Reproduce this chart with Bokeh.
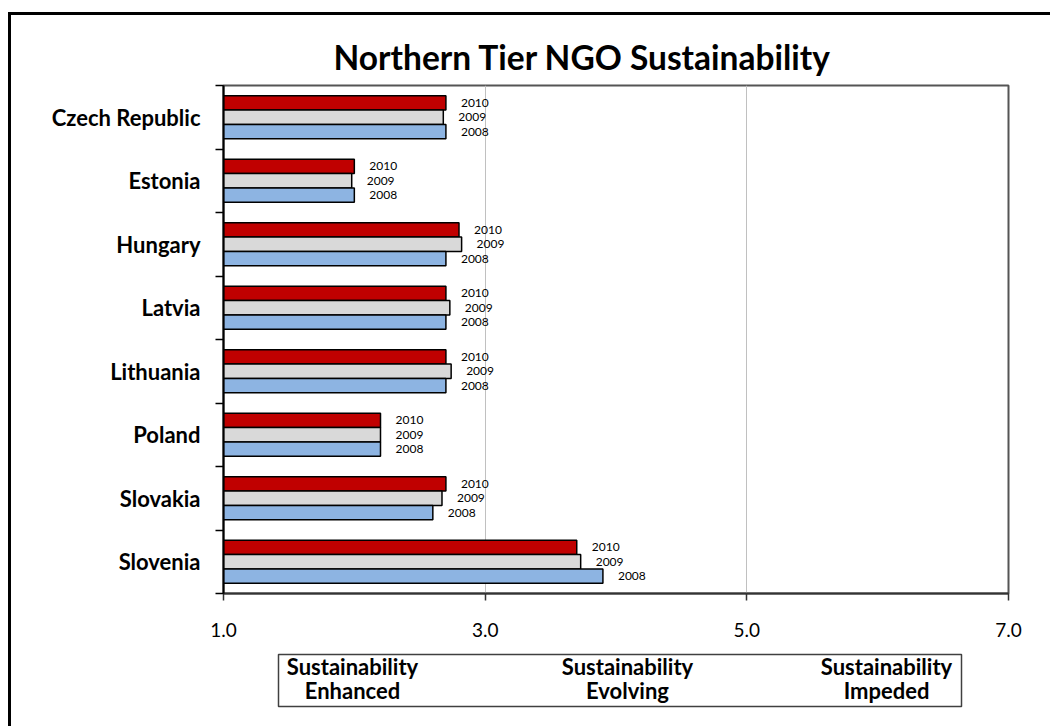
from bokeh.plotting import figure
from bokeh.models import Range1d, FixedTicker, PrintfTickFormatter, CustomJSTickFormatter, Spacer
from bokeh.core.properties import value
from bokeh.layouts import column, row
from bokeh.embed import file_html
from bokeh.resources import INLINE

# ---- data ----
countries = ["Czech Republic", "Estonia", "Hungary", "Latvia", "Lithuania",
             "Poland", "Slovakia", "Slovenia"]
years = ["2010", "2009", "2008"]
v2010 = [2.7, 2.0, 2.8, 2.7, 2.7, 2.2, 2.7, 3.7]
v2009 = [2.68, 1.98, 2.82, 2.73, 2.74, 2.2, 2.67, 3.73]
v2008 = [2.7, 2.0, 2.7, 2.7, 2.7, 2.2, 2.6, 3.9]
x_ticks = [1.0, 3.0, 5.0, 7.0]
scale_labels = ["Sustainability\nEnhanced", "Sustainability\nEvolving", "Sustainability\nImpeded"]

colors = ["#C00000", "#D9D9D9", "#8DB4E2"]
FONT = "Lato"

n = len(countries)
centers = [n - i - 0.5 for i in range(n)]
offsets = [0.228, 0.0, -0.228]
series = [v2010, v2009, v2008]

W = 1039
p = figure(width=W, height=630, x_range=Range1d(1, 7), y_range=Range1d(0, n),
           output_backend="svg", toolbar_location=None,
           min_border_left=212, min_border_right=42, min_border_top=70, min_border_bottom=52,
           title="Northern Tier NGO Sustainability")
p.title.text_font = FONT
p.title.text_font_style = "bold"
p.title.text_font_size = "33.5px"
p.title.text_color = "black"
p.title.align = "left"
p.title.offset = 110
p.title.standoff = 17

for vals, yr, col, off in zip(series, years, colors, offsets):
    ys = [c + off for c in centers]
    p.hbar(y=ys, left=1, right=vals, height=0.225, fill_color=col,
           line_color="black", line_width=1.5)
    p.text(x=vals, y=ys, text=[yr] * n, x_offset=15, text_align="left",
           text_baseline="middle", text_font=value(FONT), text_font_size="12px",
           text_color="black")

# x axis
p.xaxis.ticker = FixedTicker(ticks=x_ticks)
p.xaxis.formatter = PrintfTickFormatter(format="%.1f")
p.xaxis.major_label_text_font = FONT
p.xaxis.major_label_text_font_size = "19px"
p.xaxis.major_label_text_color = "black"
p.xaxis.major_label_standoff = 22
p.xaxis.major_tick_out = 7
p.xaxis.major_tick_in = 0
p.xaxis.minor_tick_line_color = None
p.xaxis.axis_line_color = "#333333"
p.xaxis.axis_line_width = 2
p.xaxis.major_tick_line_color = "#333333"
p.xaxis.major_tick_line_width = 1.5

# y axis
p.yaxis.ticker = FixedTicker(ticks=centers, minor_ticks=list(range(0, n + 1)))
p.yaxis.formatter = CustomJSTickFormatter(args=dict(names=countries),
                                          code="return names[Math.round(names.length - 0.5 - tick)];")
p.yaxis.major_label_text_font = FONT
p.yaxis.major_label_text_font_style = "bold"
p.yaxis.major_label_text_font_size = "22px"
p.yaxis.major_label_text_color = "black"
p.yaxis.major_label_standoff = 15
p.yaxis.major_tick_out = 0
p.yaxis.major_tick_in = 0
p.yaxis.minor_tick_out = 8
p.yaxis.minor_tick_in = 0
p.yaxis.minor_tick_line_color = "black"
p.yaxis.minor_tick_line_width = 1.5
p.yaxis.axis_line_color = "black"
p.yaxis.axis_line_width = 2

p.xgrid.ticker = FixedTicker(ticks=x_ticks)
p.xgrid.grid_line_color = "#C0C0C0"
p.ygrid.grid_line_color = None
p.outline_line_color = "#555555"
p.outline_line_width = 2

# bottom scale box (pixel-like units measured from the plot frame's left / top)
p2 = figure(width=W, height=81, x_range=Range1d(0, 785), y_range=Range1d(81, 0),
            output_backend="svg", toolbar_location=None,
            min_border_left=212, min_border_right=42, min_border_top=0, min_border_bottom=0)
p2.axis.visible = False
p2.grid.grid_line_color = None
p2.outline_line_color = None
p2.quad(left=[55], right=[738], top=[9], bottom=[61], fill_color=None,
        line_color="#404040", line_width=1.5)
p2.text(x=[129, 404, 663], y=[33, 33, 33], text=scale_labels, text_align="center",
        text_baseline="middle", text_font=value(FONT), text_font_style="bold",
        text_font_size="22px", text_line_height=0.86, text_color="black")

top_bar = Spacer(width=W + 3, height=3, styles={"background-color": "black"})
left_bar = Spacer(width=3, height=630 + 81, styles={"background-color": "black"})
layout = column(top_bar, row(left_bar, column(p, p2, spacing=0), spacing=0),
                spacing=0, margin=(12, 0, 0, 8))

open("out.html", "w").write(file_html(layout, INLINE))
